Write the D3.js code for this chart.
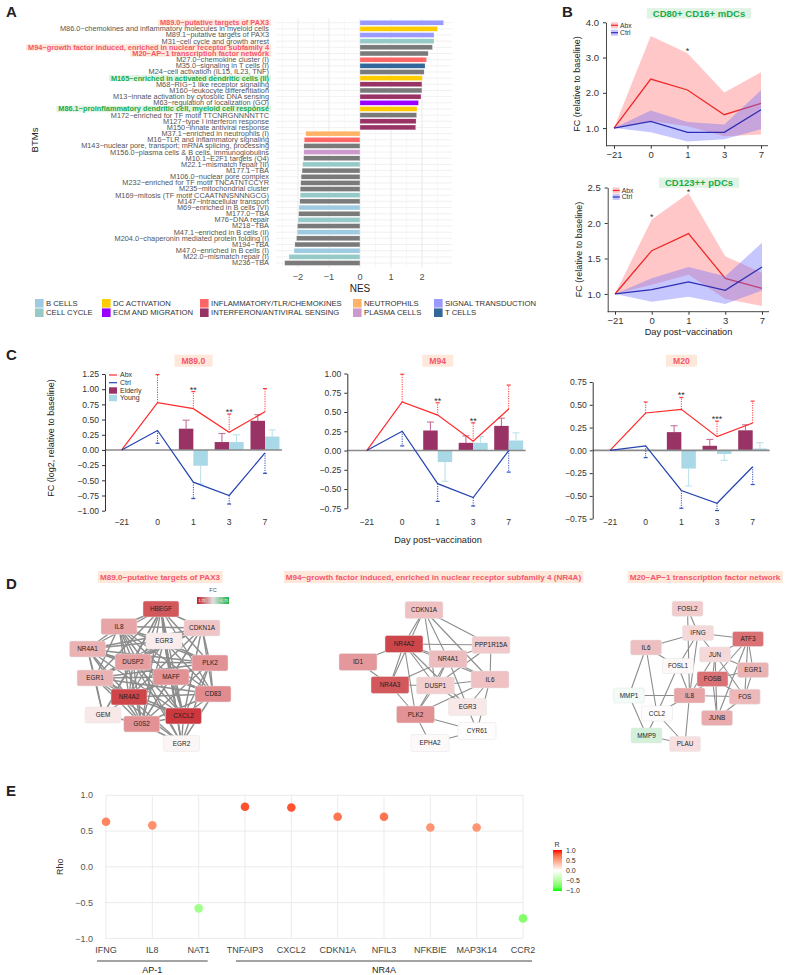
<!DOCTYPE html>
<html><head><meta charset="utf-8">
<script src="https://cdn.jsdelivr.net/npm/d3@7"></script>
<style>
body{margin:0;background:#fff}
svg{display:block;font-family:"Liberation Sans",Arial,Helvetica,sans-serif}
</style></head><body>
<svg id="fig" width="800" height="975"></svg>
<script>
// ================= DATA =================
// ---- Panel A: BTM enrichment ----
const btmNames = [
 "M89.0−putative targets of PAX3",
 "M86.0−chemokines and inflammatory molecules in myeloid cells",
 "M89.1−putative targets of PAX3",
 "M31−cell cycle and growth arrest",
 "M94−growth factor induced, enriched in nuclear receptor subfamily 4",
 "M20−AP−1 transcription factor network",
 "M27.0−chemokine cluster (I)",
 "M35.0−signaling in T cells (I)",
 "M24−cell activation (IL15, IL23, TNF)",
 "M165−enriched in activated dendritic cells (II)",
 "M68−RIG−1 like receptor signaling",
 "M160−leukocyte differentiation",
 "M13−innate activation by cytosolic DNA sensing",
 "M63−regulation of localization (GO)",
 "M86.1−proinflammatory dendritic cell, myeloid cell response",
 "M172−enriched for TF motif TTCNRGNNNNTTC",
 "M127−type I interferon response",
 "M150−innate antiviral response",
 "M37.1−enriched in neutrophils (I)",
 "M16−TLR and inflammatory signaling",
 "M143−nuclear pore, transport; mRNA splicing, processing",
 "M156.0−plasma cells & B cells, immunoglobulins",
 "M10.1−E2F1 targets (Q4)",
 "M22.1−mismatch repair (II)",
 "M177.1−TBA",
 "M106.0−nuclear pore complex",
 "M232−enriched for TF motif TNCATNTCCYR",
 "M235−mitochondrial cluster",
 "M169−mitosis (TF motif CCAATNNSNNNGCG)",
 "M147−intracellular transport",
 "M69−enriched in B cells (VI)",
 "M177.0−TBA",
 "M76−DNA repair",
 "M218−TBA",
 "M47.1−enriched in B cells (II)",
 "M204.0−chaperonin mediated protein folding (I)",
 "M194−TBA",
 "M47.0−enriched in B cells (I)",
 "M22.0−mismatch repair (I)",
 "M236−TBA"
];
const btmNES = [2.70, 2.50, 2.39, 2.39, 2.34, 2.20, 2.15, 2.10, 2.07, 2.01, 2.00, 2.00, 1.97, 1.89, 1.84, 1.83, 1.81, 1.80,
 -1.75, -1.80, -1.81, -1.81, -1.82, -1.85, -1.87, -1.90, -1.91, -1.93, -1.93, -1.94, -1.97, -1.98, -2.00, -2.02, -2.03, -2.05, -2.10, -2.13, -2.29, -2.43];
const btmCategory = [
 "SIGNAL TRANSDUCTION","DC ACTIVATION","SIGNAL TRANSDUCTION","CELL CYCLE","NA","NA",
 "INFLAMMATORY/TLR/CHEMOKINES","T CELLS","NA","DC ACTIVATION","INTERFERON/ANTIVIRAL SENSING","NA",
 "INTERFERON/ANTIVIRAL SENSING","ECM AND MIGRATION","DC ACTIVATION","NA","INTERFERON/ANTIVIRAL SENSING","INTERFERON/ANTIVIRAL SENSING",
 "NEUTROPHILS","INFLAMMATORY/TLR/CHEMOKINES","NA","PLASMA CELLS","NA","CELL CYCLE","NA","NA","NA","NA","CELL CYCLE","NA",
 "B CELLS","NA","CELL CYCLE","NA","B CELLS","NA","NA","B CELLS","CELL CYCLE","NA"];
const btmHighlightRed = ["M89.0−putative targets of PAX3","M94−growth factor induced, enriched in nuclear receptor subfamily 4","M20−AP−1 transcription factor network"];
const btmHighlightGreen = ["M165−enriched in activated dendritic cells (II)","M86.1−proinflammatory dendritic cell, myeloid cell response"];
const categoryNames = ["B CELLS","CELL CYCLE","DC ACTIVATION","ECM AND MIGRATION","INFLAMMATORY/TLR/CHEMOKINES","INTERFERON/ANTIVIRAL SENSING","NEUTROPHILS","PLASMA CELLS","SIGNAL TRANSDUCTION","T CELLS"];
const categoryColors = ["#9fcbe2","#96cac8","#ffcc00","#9900ff","#ff6666","#993366","#ffb366","#cc99cc","#9999ff","#336699"];
const nesTicks = [-2,-1,0,1,2];

// ---- Panel B: DC frequencies ----
const days = ["−21","0","1","3","7"];
const cd80Abx   = [1.0, 2.39, 2.08, 1.38, 1.70];
const cd80AbxLo = [1.0, 1.20, 1.05, 0.77, 0.82];
const cd80AbxHi = [1.0, 3.61, 3.12, 2.01, 2.58];
const cd80Ctrl  = [1.0, 1.19, 0.88, 0.88, 1.52];
const cd80CtrlLo= [1.0, 0.88, 0.62, 0.68, 0.97];
const cd80CtrlHi= [1.0, 1.50, 1.17, 1.10, 2.07];
const cd80Stars = [{day:"1", v:3.25, t:"*"}];
const cd123Abx   = [1.0, 1.61, 1.85, 1.22, 1.08];
const cd123AbxLo = [1.0, 1.13, 1.27, 0.93, 0.83];
const cd123AbxHi = [1.0, 2.05, 2.42, 1.53, 1.30];
const cd123Ctrl  = [1.0, 1.06, 1.17, 1.05, 1.38];
const cd123CtrlLo= [1.0, 0.89, 0.96, 0.86, 1.05];
const cd123CtrlHi= [1.0, 1.22, 1.38, 1.25, 1.72];
const cd123Stars = [{day:"0", v:2.11, t:"*"},{day:"1", v:2.46, t:"*"}];

// ---- Panel C: module scores ----
const cDays = ["−21","0","1","3","7"];
const barDays = ["1","3","7"];
const m89Abx = [0, 0.78, 0.68, 0.29, 0.63];
const m89AbxErr = [null, 1.24, 0.96, 0.59, 1.01];
const m89Ctrl = [0, 0.32, -0.53, -0.75, -0.05];
const m89CtrlErr = [null, 0.11, -0.80, -0.89, -0.385];
const m89Elderly = [0.35, 0.13, 0.48];
const m89ElderlyErr = [0.49, 0.27, 0.58];
const m89Young = [-0.26, 0.13, 0.22];
const m89YoungErr = [-0.56, 0.25, 0.33];
const m89Sig = ["", "", "**", "**", ""];

const m94Abx = [0, 0.63, 0.46, 0.12, 0.54];
const m94AbxErr = [null, 0.99, 0.62, 0.36, 0.85];
const m94Ctrl = [0, 0.25, -0.43, -0.61, 0.0];
const m94CtrlErr = [null, 0.06, -0.66, -0.72, -0.28];
const m94Elderly = [0.26, 0.10, 0.32];
const m94ElderlyErr = [0.37, 0.19, 0.42];
const m94Young = [-0.15, 0.10, 0.13];
const m94YoungErr = [-0.40, 0.18, 0.23];
const m94Sig = ["", "", "**", "**", ""];

const m20Abx = [0, 0.41, 0.45, 0.15, 0.30];
const m20AbxErr = [null, 0.53, 0.58, 0.32, 0.54];
const m20Ctrl = [0, 0.05, -0.44, -0.58, -0.18];
const m20CtrlErr = [null, -0.08, -0.635, -0.66, -0.375];
const m20Elderly = [0.20, 0.05, 0.22];
const m20ElderlyErr = [0.27, 0.12, 0.28];
const m20Young = [-0.20, -0.04, 0.02];
const m20YoungErr = [-0.39, -0.11, 0.085];
const m20Sig = ["", "", "**", "***", ""];

// ---- Panel D: networks (gene, FC) ----
const m89Genes = ["HBEGF","IL8","CDKN1A","EGR3","NR4A1","DUSP2","PLK2","EGR1","MAFF","CD83","NR4A2","GEM","CXCL2","G0S2","EGR2"];
const m89FC    = [1.30, 0.70, 0.45, 0.15, 0.60, 0.75, 0.85, 0.60, 0.85, 0.90, 1.45, 0.18, 1.55, 0.85, 0.08];
const m89Adj = {
 HBEGF:["IL8","CDKN1A","EGR3","NR4A1","DUSP2","PLK2","EGR1","MAFF","CD83","NR4A2","CXCL2","G0S2","EGR2","GEM"],
 IL8:["CDKN1A","EGR3","NR4A1","DUSP2","PLK2","EGR1","MAFF","CD83","NR4A2","CXCL2","G0S2","EGR2"],
 CDKN1A:["EGR3","NR4A1","DUSP2","PLK2","EGR1","MAFF","CD83","NR4A2","CXCL2","G0S2"],
 EGR3:["NR4A1","DUSP2","PLK2","EGR1","MAFF","CD83","NR4A2","CXCL2","G0S2","EGR2"],
 NR4A1:["DUSP2","PLK2","EGR1","MAFF","CD83","NR4A2","CXCL2","G0S2","GEM"],
 DUSP2:["PLK2","EGR1","MAFF","CD83","NR4A2","CXCL2","G0S2","EGR2","GEM"],
 PLK2:["EGR1","MAFF","CD83","NR4A2","CXCL2","G0S2","EGR2"],
 EGR1:["MAFF","CD83","NR4A2","CXCL2","G0S2","EGR2","GEM"],
 MAFF:["CD83","NR4A2","CXCL2","G0S2","EGR2"],
 CD83:["NR4A2","CXCL2","G0S2","EGR2"],
 NR4A2:["CXCL2","G0S2","EGR2","GEM"],
 CXCL2:["G0S2","EGR2"],
 G0S2:["EGR2","GEM"]
};
const m94Genes = ["CDKN1A","NR4A2","PPP1R15A","NR4A1","ID1","NR4A3","DUSP1","IL6","EGR3","PLK2","CYR61","EPHA2"];
const m94FC    = [0.48, 1.45, 0.42, 0.52, 0.80, 1.30, 0.38, 0.48, 0.18, 0.85, 0.02, 0.05];
const m94Adj = {
 CDKN1A:["NR4A2","NR4A1","DUSP1","PPP1R15A","IL6","NR4A3"],
 NR4A2:["PPP1R15A","NR4A1","NR4A3","DUSP1","PLK2","ID1","EGR3","IL6"],
 NR4A1:["PPP1R15A","DUSP1","IL6","EGR3","PLK2","NR4A3"],
 ID1:["NR4A3"],
 NR4A3:["DUSP1","PLK2"],
 DUSP1:["IL6","PLK2","EGR3","PPP1R15A"],
 IL6:["EGR3","PLK2","CYR61","PPP1R15A"],
 EGR3:["CYR61"],
 PLK2:["EPHA2","CYR61"],
 EPHA2:["CYR61"]
};
const m20Genes = ["FOSL2","IFNG","ATF3","IL6","JUN","FOSL1","EGR1","FOSB","MMP1","IL8","FOS","CCL2","JUNB","MMP9","PLAU"];
const m20FC    = [0.40, 0.30, 1.10, 0.50, 0.30, 0.06, 0.60, 1.10, -0.10, 0.70, 0.55, 0.02, 0.65, -0.35, 0.25];
const m20Adj = {
 FOSL2:["IFNG","IL8"],
 IFNG:["IL6","ATF3","JUN","FOSL1","IL8"],
 IL6:["CCL2","MMP1","FOSL1"],
 ATF3:["JUN","FOSB","EGR1","FOS","JUNB"],
 JUN:["FOSB","FOS","EGR1","JUNB","IL8"],
 FOSB:["FOS","EGR1","IL8","JUNB"],
 EGR1:["FOS"],
 FOS:["JUNB","IL8"],
 IL8:["MMP1","CCL2","PLAU","FOSL1"],
 CCL2:["FOSL1","MMP9","PLAU"],
 MMP1:["MMP9"],
 MMP9:["PLAU"]
};

// ---- Panel E: correlations ----
const eGenes = ["IFNG","IL8","NAT1","TNFAIP3","CXCL2","CDKN1A","NFIL3","NFKBIE","MAP3K14","CCR2"];
const eRho   = [0.63, 0.58, -0.58, 0.84, 0.83, 0.70, 0.70, 0.55, 0.55, -0.72];
const eGroupNames = ["AP-1","NR4A"];
const eGroupGenes = [["IFNG","IL8","NAT1"],["TNFAIP3","CXCL2","CDKN1A","NFIL3","NFKBIE","MAP3K14","CCR2"]];
const eTicks = [-1.0,-0.5,0.0,0.5,1.0];

// ================= LAYOUT (network node positions) =================
const m89Layout = {HBEGF:[161,609],IL8:[119,626.5],CDKN1A:[202,628],EGR3:[164,641],NR4A1:[87.5,649],DUSP2:[133,662],PLK2:[210,663],
 EGR1:[95,678],MAFF:[171,677],CD83:[213,694],NR4A2:[129,697],GEM:[103,715],CXCL2:[183.5,716],G0S2:[141.7,724],EGR2:[181.5,743.5]};
const m94Layout = {CDKN1A:[424,610],NR4A2:[404,644],PPP1R15A:[491,645],NR4A1:[448,659],ID1:[358,662],NR4A3:[390,685],DUSP1:[435.5,685.5],
 IL6:[490,679.5],EGR3:[467.5,707],PLK2:[415.5,714.5],CYR61:[477,731],EPHA2:[430,743]};
const m20Layout = {FOSL2:[687.5,608.7],IFNG:[698,633],ATF3:[748,639],IL6:[646,647.5],JUN:[715,654.5],FOSL1:[678,666],EGR1:[753,670],
 FOSB:[712.5,679],MMP1:[629,695.5],IL8:[689.5,695.5],FOS:[744.7,696.7],CCL2:[657,713.5],JUNB:[717,718],MMP9:[646.5,735.5],PLAU:[685,744]};

// ================= DRAWING =================
const svg = d3.select("#fig");
svg.append("rect").attr("width",800).attr("height",975).attr("fill","#fff");
const RED_HL="#f5566c", RED_BG="#fde8da", GREEN_HL="#1aab48", GREEN_BG="#e1f3e4";
const AX="#333";

function letter(t,x,y){svg.append("text").attr("x",x).attr("y",y).attr("font-size",15).attr("font-weight","bold").attr("fill","#222").text(t);}
letter("A",6,17); letter("B",562,17); letter("C",6,360); letter("D",6,589); letter("E",6,796);

// ---------- Panel A ----------
(function(){
  const g = svg.append("g");
  const x = d3.scaleLinear().domain([-2.71, 2.97]).range([276, 452]);
  const y = d3.scalePoint().domain(btmNames).range([22.7, 263]);
  const colorOf = d3.scaleOrdinal().domain(categoryNames).range(categoryColors).unknown("#7a7a7a");
  const top=18.5, bot=267.5;
  d3.range(-2.5,3,1).forEach(v=>g.append("line").attr("x1",x(v)).attr("x2",x(v)).attr("y1",top).attr("y2",bot).attr("stroke","#f3f3f3").attr("stroke-width",0.6));
  nesTicks.forEach(v=>g.append("line").attr("x1",x(v)).attr("x2",x(v)).attr("y1",top).attr("y2",bot).attr("stroke","#e6e6e6").attr("stroke-width",0.9));
  btmNames.forEach(n=>g.append("line").attr("x1",276).attr("x2",452).attr("y1",y(n)).attr("y2",y(n)).attr("stroke","#ebebeb").attr("stroke-width",0.7));
  g.selectAll("rect.bar").data(btmNames).join("rect").attr("class","bar")
    .attr("x",(n,i)=>x(Math.min(0,btmNES[i]))).attr("width",(n,i)=>Math.abs(x(btmNES[i])-x(0)))
    .attr("y",n=>y(n)-2.45).attr("height",4.9).attr("fill",(n,i)=>colorOf(btmCategory[i]))
    .attr("stroke","#fff").attr("stroke-width",0.3);
  const hlG = g.append("g"), lbG = g.append("g");
  btmNames.forEach(n=>{
    const hl = btmHighlightRed.includes(n)?"red":(btmHighlightGreen.includes(n)?"green":null);
    const t = lbG.append("text").attr("x",269).attr("y",y(n)).attr("dy","0.35em").attr("text-anchor","end")
      .attr("font-size",hl?6.8:6.9).attr("font-weight",hl?"bold":"normal")
      .attr("fill",hl?(hl==="red"?RED_HL:GREEN_HL):"#555").text(n);
    const w = t.node().getComputedTextLength();
    t.attr("textLength", w*(hl?1.08:1.065)).attr("lengthAdjust","spacingAndGlyphs");
    if(hl){const bb=t.node().getBBox();
      hlG.append("rect").attr("x",bb.x-2).attr("y",y(n)-3.2).attr("width",bb.width+4).attr("height",6.4).attr("fill",hl==="red"?RED_BG:GREEN_BG);}
  });
  nesTicks.forEach(v=>g.append("text").attr("x",x(v)).attr("y",280).attr("text-anchor","middle").attr("font-size",9.2).attr("fill","#4d4d4d").text(d3.format("d")(v)));
  g.append("text").attr("x",x(0)).attr("y",292).attr("text-anchor","middle").attr("font-size",10).attr("fill","#222").text("NES");
  g.append("text").attr("transform","translate(38,140) rotate(-90)").attr("text-anchor","middle").attr("font-size",9.5).attr("fill","#222").text("BTMs");
  const colX=[35,102,200,353,434], rowY=[303.3,312.7];
  categoryNames.forEach((c,i)=>{
    const cx=colX[Math.floor(i/2)], cy=rowY[i%2];
    g.append("rect").attr("x",cx).attr("y",cy-4.3).attr("width",8.6).attr("height",8.6).attr("fill",categoryColors[i]);
    g.append("text").attr("x",cx+11).attr("y",cy).attr("dy","0.35em").attr("font-size",7.7).attr("fill","#333").text(c);
  });
})();

// ---------- Panel B ----------
function drawB(o){
  const g = svg.append("g");
  const x = d3.scalePoint().domain(days).range(o.xr);
  const y = d3.scaleLinear().domain(o.yd).range(o.yr);
  const tt = g.append("text").attr("x",o.tx).attr("y",o.ty).attr("dy","0.35em").attr("text-anchor","middle")
    .attr("font-size",9.5).attr("font-weight","bold").attr("fill",GREEN_HL).text(o.title);
  const bb = tt.node().getBBox();
  g.insert("rect","text").attr("x",bb.x-6).attr("y",o.ty-5.2).attr("width",bb.width+12).attr("height",10.4).attr("fill",GREEN_BG);
  const area = d3.area().x((d,i)=>x(days[i])).y0(d=>y(d[0])).y1(d=>y(d[1]));
  const line = d3.line().x((d,i)=>x(days[i])).y(d=>y(d));
  g.append("path").attr("d",area(o.abxLo.map((v,i)=>[v,o.abxHi[i]]))).attr("fill","#ff6b6b").attr("fill-opacity",0.38);
  g.append("path").attr("d",line(o.abx)).attr("fill","none").attr("stroke","#ee2a2a").attr("stroke-width",1.3);
  g.append("path").attr("d",area(o.ctrlLo.map((v,i)=>[v,o.ctrlHi[i]]))).attr("fill","#6b6bff").attr("fill-opacity",0.38);
  g.append("path").attr("d",line(o.ctrl)).attr("fill","none").attr("stroke","#2d2db3").attr("stroke-width",1.3);
  o.stars.forEach(s=>g.append("text").attr("x",x(s.day)).attr("y",y(s.v)+5).attr("text-anchor","middle").attr("font-size",9).attr("fill","#333").text(s.t));
  const ya = g.append("g").attr("transform",`translate(${o.ax},0)`)
    .call(d3.axisLeft(y).tickValues(o.yticks).tickFormat(d3.format(".1f")).tickSize(3).tickSizeOuter(0));
  const xa = g.append("g").attr("transform",`translate(0,${o.yr[0]})`).call(d3.axisBottom(x).tickSize(3).tickSizeOuter(0));
  xa.select(".domain").remove();
  g.append("line").attr("x1",o.ax).attr("x2",o.xr[1]+7).attr("y1",o.yr[0]).attr("y2",o.yr[0]).attr("stroke",AX).attr("stroke-width",0.9);
  [ya,xa].forEach(a=>{a.selectAll("text").attr("font-size",9.5).attr("fill",AX).attr("font-family",null);
    a.selectAll("line").attr("stroke",AX); a.selectAll(".domain").attr("stroke",AX).attr("stroke-width",0.9);});
  ya.selectAll("text").attr("dx","-0.1em");
  g.append("text").attr("transform",`translate(${o.ax-26},${(o.yr[0]+o.yr[1])/2}) rotate(-90)`).attr("text-anchor","middle")
    .attr("font-size",9).attr("fill","#222").text("FC (relative to baseline)");
  [["Abx","#ff6b6b","#ee2a2a"],["Ctrl","#6b6bff","#2d2db3"]].forEach((d,i)=>{
    const ly = o.ly[i];
    g.append("rect").attr("x",o.ax+5).attr("y",ly-3).attr("width",7).attr("height",6).attr("fill",d[1]).attr("fill-opacity",0.38);
    g.append("line").attr("x1",o.ax+5).attr("x2",o.ax+12).attr("y1",ly).attr("y2",ly).attr("stroke",d[2]).attr("stroke-width",1.2);
    g.append("text").attr("x",o.ax+14).attr("y",ly).attr("dy","0.35em").attr("font-size",6.8).attr("fill","#333").text(d[0]);
  });
  if(o.xtitle) g.append("text").attr("x",(o.xr[0]+o.xr[1])/2).attr("y",o.yr[0]+23.5).attr("text-anchor","middle").attr("font-size",9.2).attr("fill","#222").text(o.xtitle);
}
drawB({xr:[614,761], yd:[0.5,4.0], yr:[145.7,22.3], ax:606, yticks:[1,2,3,4], title:"CD80+ CD16+ mDCs", tx:699, ty:13.3,
  abx:cd80Abx, abxLo:cd80AbxLo, abxHi:cd80AbxHi, ctrl:cd80Ctrl, ctrlLo:cd80CtrlLo, ctrlHi:cd80CtrlHi, stars:cd80Stars, ly:[25.3,32.7]});
drawB({xr:[615,762], yd:[0.75,2.5], yr:[311.7,187.5], ax:607.7, yticks:[1,1.5,2,2.5], title:"CD123++ pDCs", tx:699, ty:182.7,
  abx:cd123Abx, abxLo:cd123AbxLo, abxHi:cd123AbxHi, ctrl:cd123Ctrl, ctrlLo:cd123CtrlLo, ctrlHi:cd123CtrlHi, stars:cd123Stars, ly:[190.5,197], xtitle:"Day post−vaccination"});

// ---------- Panel C ----------
function drawC(o){
  const g = svg.append("g");
  const x = d3.scalePoint().domain(cDays).range(o.xr);
  const y = d3.scaleLinear().domain(o.yd).range(o.yr);
  const cx = (o.xr[0]+o.xr[1])/2;
  const tt = g.append("text").attr("x",cx).attr("y",360.7).attr("dy","0.35em").attr("text-anchor","middle")
    .attr("font-size",8.6).attr("font-weight","bold").attr("fill",RED_HL).text(o.title);
  const bb = tt.node().getBBox();
  g.insert("rect","text").attr("x",bb.x-7).attr("y",354.7).attr("width",bb.width+14).attr("height",12).attr("fill",RED_BG);
  const bw = 14.5;
  barDays.forEach((d,i)=>{
    [[o.eld,o.eldE,-bw/2,"#c6709b"],[o.yng,o.yngE,bw/2,"#bfe2ec"]].forEach(s=>{
      const bx = x(d)+s[2];
      g.append("line").attr("x1",bx).attr("x2",bx).attr("y1",y(s[0][i])).attr("y2",y(s[1][i])).attr("stroke",s[3]).attr("stroke-width",1.1);
      g.append("line").attr("x1",bx-3.5).attr("x2",bx+3.5).attr("y1",y(s[1][i])).attr("y2",y(s[1][i])).attr("stroke",s[3]).attr("stroke-width",1.1);
    });
  });
  barDays.forEach((d,i)=>{
    g.append("rect").attr("x",x(d)-bw).attr("width",bw).attr("y",y(Math.max(0,o.eld[i]))).attr("height",Math.abs(y(o.eld[i])-y(0))).attr("fill","#993366");
    g.append("rect").attr("x",x(d)).attr("width",bw).attr("y",y(Math.max(0,o.yng[i]))).attr("height",Math.abs(y(o.yng[i])-y(0))).attr("fill","#a9d9e6");
  });
  g.append("line").attr("x1",o.ax).attr("x2",o.xr[1]+17).attr("y1",y(0)).attr("y2",y(0)).attr("stroke","#8a8a8a").attr("stroke-width",1.6);
  [[o.abx,o.abxE,"#ff3b3b"],[o.ctl,o.ctlE,"#2f4fbf"]].forEach(s=>{
    cDays.forEach((d,i)=>{ if(s[1][i]===null) return;
      g.append("line").attr("x1",x(d)).attr("x2",x(d)).attr("y1",y(s[0][i])).attr("y2",y(s[1][i])).attr("stroke",s[2]).attr("stroke-width",1).attr("stroke-dasharray","1.2,1.2");
      g.append("line").attr("x1",x(d)-2).attr("x2",x(d)+2).attr("y1",y(s[1][i])).attr("y2",y(s[1][i])).attr("stroke",s[2]).attr("stroke-width",1.2);
    });
  });
  const line = d3.line().x((d,i)=>x(cDays[i])).y(d=>y(d));
  g.append("path").attr("d",line(o.abx)).attr("fill","none").attr("stroke","#ff2a2a").attr("stroke-width",1.2);
  g.append("path").attr("d",line(o.ctl)).attr("fill","none").attr("stroke","#2443b0").attr("stroke-width",1.2);
  cDays.forEach((d,i)=>{ if(!o.sig[i]) return;
    g.append("text").attr("x",x(d)).attr("y",y(o.abxE[i])+1).attr("text-anchor","middle").attr("font-size",9).attr("fill","#333").text(o.sig[i]); });
  const ya = g.append("g").attr("transform",`translate(${o.ax},0)`)
    .call(d3.axisLeft(y).tickValues(o.yticks).tickFormat(d3.format(".2f")).tickSize(3).tickSizeOuter(0));
  ya.selectAll("text").attr("font-size",8.6).attr("fill",AX).attr("font-family",null);
  ya.selectAll("line").attr("stroke",AX); ya.select(".domain").attr("stroke",AX).attr("stroke-width",1);
  cDays.forEach(d=>g.append("text").attr("x",x(d)).attr("y",525).attr("text-anchor","middle").attr("font-size",8.6).attr("fill",AX).text(d));
}
drawC({title:"M89.0", xr:[121.7,265], yd:[-1,1.25], yr:[510.7,374], ax:105, yticks:d3.range(-1,1.26,0.25),
  abx:m89Abx, abxE:m89AbxErr, ctl:m89Ctrl, ctlE:m89CtrlErr, eld:m89Elderly, eldE:m89ElderlyErr, yng:m89Young, yngE:m89YoungErr, sig:m89Sig});
drawC({title:"M94", xr:[366.7,508.7], yd:[-0.75,1.0], yr:[508.3,373.5], ax:347.3, yticks:d3.range(-0.75,1.01,0.25),
  abx:m94Abx, abxE:m94AbxErr, ctl:m94Ctrl, ctlE:m94CtrlErr, eld:m94Elderly, eldE:m94ElderlyErr, yng:m94Young, yngE:m94YoungErr, sig:m94Sig});
drawC({title:"M20", xr:[610,752.7], yd:[-0.75,0.75], yr:[518.7,382], ax:592.7, yticks:d3.range(-0.75,0.76,0.25),
  abx:m20Abx, abxE:m20AbxErr, ctl:m20Ctrl, ctlE:m20CtrlErr, eld:m20Elderly, eldE:m20ElderlyErr, yng:m20Young, yngE:m20YoungErr, sig:m20Sig});
svg.append("text").attr("transform","translate(54,438) rotate(-90)").attr("text-anchor","middle").attr("font-size",9).attr("fill","#222").text("FC (log2, relative to baseline)");
svg.append("text").attr("x",438).attr("y",543).attr("text-anchor","middle").attr("font-size",9.2).attr("fill","#222").text("Day post−vaccination");
[["Abx","line","#ff2a2a"],["Ctrl","line","#2443b0"],["Elderly","rect","#993366"],["Young","rect","#a9d9e6"]].forEach((d,i)=>{
  const ly=[375,382.7,390.5,398][i];
  if(d[1]==="line") svg.append("line").attr("x1",109).attr("x2",117).attr("y1",ly).attr("y2",ly).attr("stroke",d[2]).attr("stroke-width",1.2);
  else svg.append("rect").attr("x",109).attr("y",ly-3.2).attr("width",8).attr("height",6.4).attr("fill",d[2]);
  svg.append("text").attr("x",120).attr("y",ly).attr("dy","0.35em").attr("font-size",7).attr("fill","#333").text(d[0]);
});

// ---------- Panel D ----------
const fcColor = d3.scaleLinear().domain([-1.75,0,1.75]).range(["#22b24c","#ffffff","#c41e24"]).interpolate(d3.interpolateRgb);
function dTitle(t,cx){
  const tt = svg.append("text").attr("x",cx).attr("y",577).attr("dy","0.35em").attr("text-anchor","middle").attr("font-size",8.1).attr("font-weight","bold").attr("fill",RED_HL).text(t);
  const bb = tt.node().getBBox();
  svg.insert("rect","text").attr("x",bb.x-2).attr("y",571).attr("width",bb.width+4).attr("height",12).attr("fill",RED_BG);
}
dTitle("M89.0−putative targets of PAX3",160);
dTitle("M94−growth factor induced, enriched in nuclear receptor subfamily 4 (NR4A)",433.5);
dTitle("M20−AP−1 transcription factor network",705);
function drawNet(genes,fc,adj,layout,w,h,ew){
  const g = svg.append("g");
  Object.keys(adj).forEach(a=>adj[a].forEach(b=>{
    g.append("line").attr("x1",layout[a][0]).attr("y1",layout[a][1]).attr("x2",layout[b][0]).attr("y2",layout[b][1]).attr("stroke","#8c8c8c").attr("stroke-width",ew);
  }));
  genes.forEach((gn,i)=>{
    const [cx,cy]=layout[gn];
    g.append("rect").attr("x",cx-w/2).attr("y",cy-h/2).attr("width",w).attr("height",h).attr("rx",2).attr("fill",fcColor(fc[i])).attr("stroke","#e4e4e4").attr("stroke-width",0.5);
    g.append("text").attr("x",cx).attr("y",cy).attr("dy","0.35em").attr("text-anchor","middle").attr("font-size",6.4).attr("fill","#222").text(gn);
  });
}
drawNet(m89Genes,m89FC,m89Adj,m89Layout,36,16,1.4);
drawNet(m94Genes,m94FC,m94Adj,m94Layout,38,17,1.1);
drawNet(m20Genes,m20FC,m20Adj,m20Layout,31,15,1.1);
(function(){
  const defs = svg.append("defs");
  const lg = defs.append("linearGradient").attr("id","fcg");
  [[0,fcColor(1.75)],[0.5,"#e0e0e0"],[1,fcColor(-1.75)]].forEach(s=>lg.append("stop").attr("offset",s[0]).attr("stop-color",s[1]));
  svg.append("rect").attr("x",197).attr("y",597).attr("width",32).attr("height",7).attr("fill","url(#fcg)");
  svg.append("text").attr("x",213).attr("y",592).attr("text-anchor","middle").attr("font-size",5.5).attr("fill","#555").text("FC");
  svg.append("text").attr("x",198.5).attr("y",600.5).attr("dy","0.35em").attr("font-size",3.6).attr("fill","#fff").text("1.75");
  svg.append("text").attr("x",228).attr("y",600.5).attr("dy","0.35em").attr("text-anchor","end").attr("font-size",3.6).attr("fill","#fff").text("−1.75");
})();

// ---------- Panel E ----------
(function(){
  const g = svg.append("g");
  const x = d3.scalePoint().domain(eGenes).range([106,523]);
  const y = d3.scaleLinear().domain([-1,1]).range([938.4,795.3]);
  const rCol = d3.scaleLinear().domain([-1,0,1]).range(["#00ff00","#ffffff","#ff0000"]).interpolate(d3.interpolateLab);
  eTicks.forEach(v=>g.append("line").attr("x1",105).attr("x2",523).attr("y1",y(v)).attr("y2",y(v)).attr("stroke","#ebebeb").attr("stroke-width",1));
  eGenes.forEach(gn=>g.append("line").attr("x1",x(gn)).attr("x2",x(gn)).attr("y1",y(1)).attr("y2",y(-1)).attr("stroke","#ebebeb").attr("stroke-width",1));
  g.selectAll("circle").data(eGenes).join("circle").attr("cx",d=>x(d)).attr("cy",(d,i)=>y(eRho[i])).attr("r",4.3).attr("fill",(d,i)=>rCol(eRho[i]));
  eTicks.forEach(v=>g.append("text").attr("x",93).attr("y",y(v)).attr("dy","0.35em").attr("text-anchor","end").attr("font-size",9).attr("fill","#555").text(d3.format(".1f")(v)));
  eGenes.forEach(gn=>g.append("text").attr("x",x(gn)).attr("y",953).attr("text-anchor","middle").attr("font-size",9).attr("fill","#444").text(gn));
  g.append("text").attr("transform",`translate(63,${y(0)}) rotate(-90)`).attr("text-anchor","middle").attr("font-size",9).attr("fill","#333").text("Rho");
  eGroupNames.forEach((n,i)=>{
    const gs = eGroupGenes[i]; const x0=x(gs[0])-9, x1=x(gs[gs.length-1])+9;
    g.append("line").attr("x1",x0).attr("x2",x1).attr("y1",961).attr("y2",961).attr("stroke","#333").attr("stroke-width",0.9);
    g.append("text").attr("x",(x0+x1)/2).attr("y",973).attr("text-anchor","middle").attr("font-size",9).attr("fill","#222").text(n);
  });
  const defs = svg.append("defs");
  const lg = defs.append("linearGradient").attr("id","rg").attr("x1",0).attr("x2",0).attr("y1",0).attr("y2",1);
  d3.range(0,1.01,0.1).forEach(t=>lg.append("stop").attr("offset",t).attr("stop-color",rCol(1-2*t)));
  g.append("text").attr("x",557).attr("y",847).attr("text-anchor","middle").attr("font-size",7).attr("fill","#333").text("R");
  g.append("rect").attr("x",553).attr("y",850).attr("width",9).attr("height",41).attr("fill","url(#rg)");
  [1.0,0.5,0.0,-0.5,-1.0].forEach((v,i)=>g.append("text").attr("x",566).attr("y",851+i*10).attr("dy","0.35em").attr("font-size",7).attr("fill","#333").text(d3.format(".1f")(v)));
})();
</script>
</body></html>
